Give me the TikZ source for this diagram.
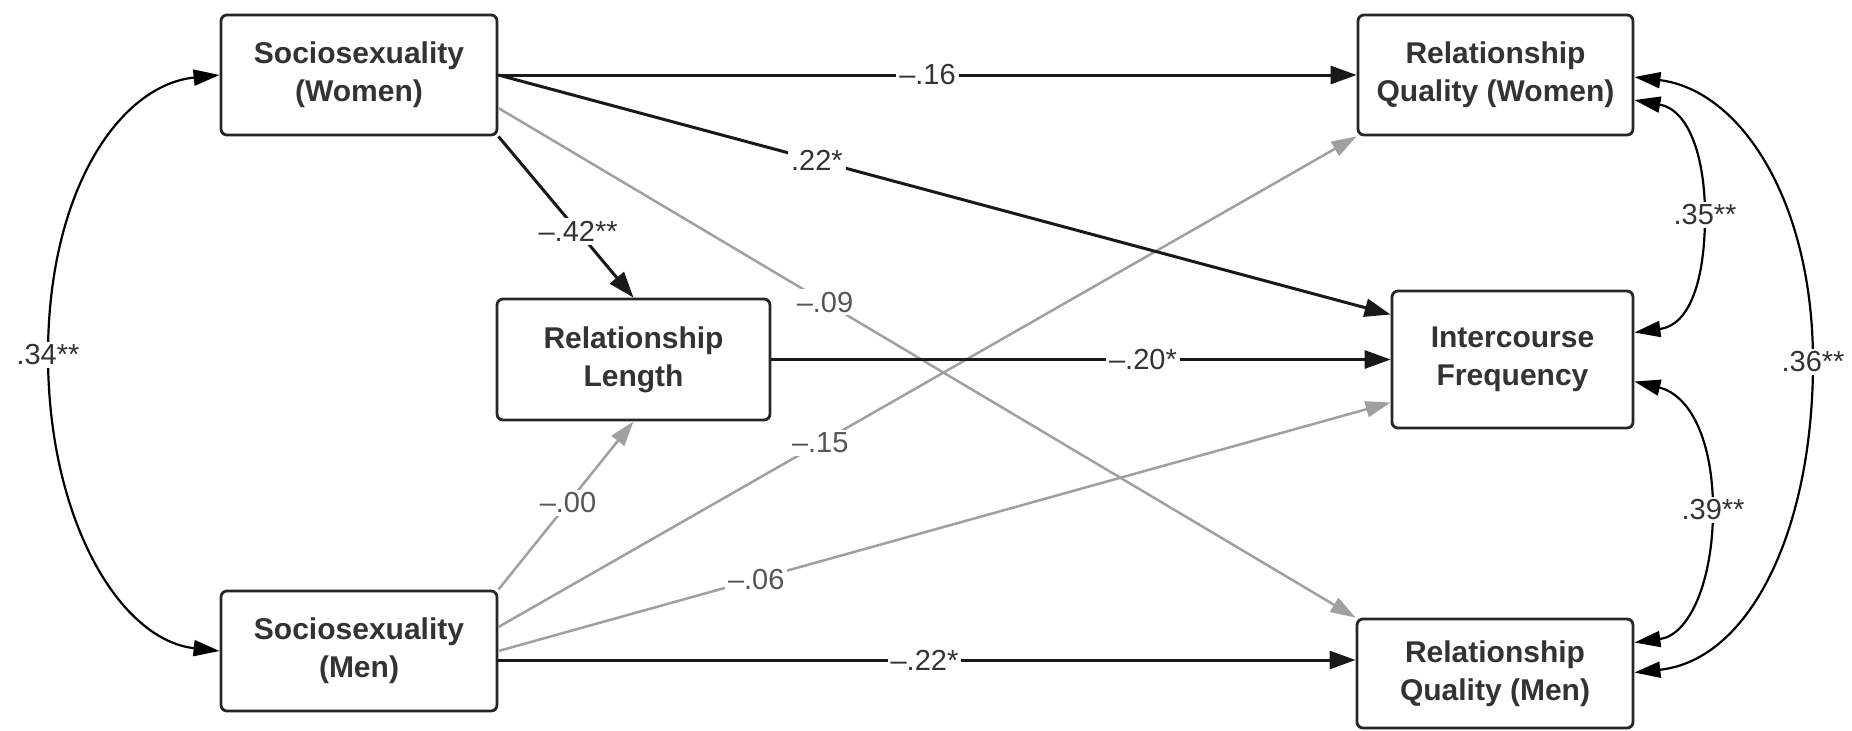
\documentclass[tikz,border=0pt]{standalone}
\usepackage{fontspec}
\setmainfont{Liberation Sans}
\usetikzlibrary{arrows.meta,calc}
\definecolor{txt}{HTML}{333333}
\definecolor{gry}{HTML}{A0A0A0}
\definecolor{labgray}{HTML}{555555}
\begin{document}
\begin{tikzpicture}[x=0.5pt,y=-0.5pt,
  box/.style={draw=black!85, line width=1.4pt, rounded corners=3pt, fill=white, align=center,
    font=\fontsize{15}{19}\selectfont\bfseries, text=txt, inner sep=0pt},
  blk/.style={line width=1.5pt, black!90, -{Triangle[length=13pt,width=9pt]}},
  gl/.style={line width=1.25pt, gry, -{Triangle[length=12.5pt,width=8pt]}},
  cor/.style={line width=1.1pt, black, {Triangle[length=13pt,width=8pt]}-{Triangle[length=13pt,width=8pt]}},
  lab/.style={fill=white, inner sep=1.5pt, font=\fontsize{14.5}{17}\selectfont, text=txt},
  glabel/.style={lab, text=labgray}]
\useasboundingbox (0,0) rectangle (1852,730);
\fill[white] (0,0) rectangle (1852,730);

% boxes
\node[box, minimum width=138pt, minimum height=60pt] (SW) at (359,75) {Sociosexuality\\(Women)};
\node[box, minimum width=138pt, minimum height=60pt] (SM) at (359,651) {Sociosexuality\\(Men)};
\node[box, minimum width=136.5pt, minimum height=60.5pt] (RL) at (633.5,359.5) {Relationship\\Length};
\node[box, minimum width=137.5pt, minimum height=60pt] (RQW) at (1495.5,75) {Relationship\\Quality (Women)};
\node[box, minimum width=120.5pt, minimum height=68.5pt] (IF) at (1512.5,359.5) {Intercourse\\Frequency};
\node[box, minimum width=138pt, minimum height=54.5pt] (RQM) at (1495,673.5) {Relationship\\Quality (Men)};

% gray paths
\draw[gl] ($(SW.east)+(0,33)$) -- (RQM.north west) node[glabel,pos=0.381]{–.09};
\draw[gl] (SM.north east) -- (RL.south) node[glabel,pos=0.515]{–.00};
\draw[gl] ($(SM.east)+(0,-24)$) -- (RQW.south west) node[glabel,pos=0.375]{–.15};
\draw[gl] (SM.east) -- ($(IF.west)+(0,43)$) node[glabel,pos=0.289]{–.06};

% black paths
\draw[blk] (SW.east) -- (RQW.west) node[lab,pos=0.5]{–.16};
\draw[blk] (SW.east) -- ($(IF.west)+(0,-45)$) node[lab,pos=0.357]{.22*};
\draw[blk] (SW.south east) -- (RL.north) node[lab,pos=0.59]{–.42**};
\draw[blk] (RL.east) -- (IF.west) node[lab,pos=0.60]{–.20*};
\draw[blk] ($(SM.east)+(0,9)$) -- ($(RQM.west)+(0,-13.5)$) node[lab,pos=0.497]{–.22*};

% correlations
\coordinate (m34) at (48,355);
\draw[cor] (SW.west) .. controls (120,85) and (48,190) .. (m34) .. controls (48,520) and (120,640) .. (SM.west);
\node[lab] at (m34) {.34**};

\coordinate (m35) at (1705,215);
\draw[cor] ($(RQW.east)+(0,25)$) .. controls (1690,110) and (1705,160) .. (m35) .. controls (1705,280) and (1690,325) .. ($(IF.east)+(0,-27)$);
\node[lab] at (m35) {.35**};

\coordinate (m39) at (1713,510);
\draw[cor] ($(IF.east)+(0,22)$) .. controls (1690,395) and (1713,440) .. (m39) .. controls (1713,580) and (1690,635) .. ($(RQM.east)+(0,-31)$);
\node[lab] at (m39) {.39**};

\coordinate (m36) at (1813,362);
\draw[cor] ($(RQW.east)+(0,2)$) .. controls (1740,90) and (1813,200) .. (m36) .. controls (1813,530) and (1750,660) .. ($(RQM.east)+(0,-1)$);
\node[lab] at (m36) {.36**};
\end{tikzpicture}
\end{document}
